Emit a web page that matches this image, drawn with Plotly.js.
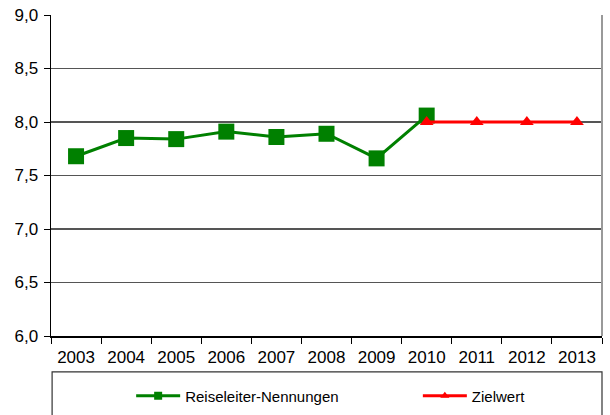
<!DOCTYPE html>
<html><head><meta charset="utf-8">
<script src="https://cdn.plot.ly/plotly-3.0.1.min.js"></script>
<style>body{margin:0;background:#fff}#c{width:610px;height:415px}</style>
</head><body><div id="c"></div>
<script>
const years = ["2003","2004","2005","2006","2007","2008","2009","2010","2011","2012","2013"];
const nennYears = ["2003","2004","2005","2006","2007","2008","2009","2010"];
const nennValues = [7.68, 7.85, 7.84, 7.91, 7.86, 7.89, 7.66, 8.06];
const zielYears = ["2010","2011","2012","2013"];
const zielValues = [8.0, 8.0, 8.0, 8.0];
const yTicks = [6.0, 6.5, 7.0, 7.5, 8.0, 8.5, 9.0];
const seriesNames = ["Reiseleiter-Nennungen", "Zielwert"];

const traces = [
  {x: nennYears, y: nennValues, name: seriesNames[0], type: "scatter", mode: "lines+markers", showlegend: false,
   line: {color: "#008000", width: 3}, marker: {symbol: "square", size: 16, color: "#008000"}},
  {x: zielYears, y: zielValues, name: seriesNames[1], type: "scatter", mode: "lines+markers", showlegend: false,
   line: {color: "#ff0000", width: 3}, marker: {symbol: "triangle-up", size: 12, color: "#ff0000"}},
  // legend entries (smaller symbols, like the reference legend)
  {x: [years[0]], y: [null], name: seriesNames[0], type: "scatter", mode: "lines+markers", legend: "legend",
   line: {color: "#008000", width: 3}, marker: {symbol: "square", size: 8, color: "#008000"}},
  {x: [years[0]], y: [null], name: seriesNames[1], type: "scatter", mode: "lines+markers", legend: "legend2",
   line: {color: "#ff0000", width: 3}, marker: {symbol: "triangle-up", size: 8, color: "#ff0000"}}
];
const legendBase = {orientation: "h", xref: "container", yref: "container", y: 0.046, xanchor: "left", yanchor: "middle",
  font: {size: 15, family: "'Liberation Sans', Arial, sans-serif"}, bgcolor: "rgba(0,0,0,0)",
  itemwidth: 44};
const layout = {
  width: 610, height: 415,
  margin: {l: 51, r: 8, t: 15, b: 79},
  paper_bgcolor: "#fff", plot_bgcolor: "#fff",
  separators: ",.",
  font: {family: "'Liberation Sans', Arial, sans-serif", color: "#000"},
  showlegend: true,
  xaxis: {type: "category", categoryorder: "array", categoryarray: years, range: [-0.5, 10.5],
    tickson: "boundaries", ticks: "outside", ticklen: 6, tickcolor: "#000", ticklabelstandoff: 5,
    showline: true, linecolor: "#000", linewidth: 1.5, showgrid: false, zeroline: false,
    tickfont: {size: 17}, fixedrange: true, automargin: false},
  yaxis: {range: [6, 9], tickvals: yTicks, tickformat: ".1f", ticks: "outside", ticklen: 6, tickcolor: "#000",
    ticklabelstandoff: 2, automargin: false,
    showline: true, linecolor: "#000", linewidth: 1.5, showgrid: true, gridcolor: "#555", gridwidth: 1.5,
    zeroline: false, tickfont: {size: 17}, fixedrange: true},
  legend: Object.assign({}, legendBase, {x: 0.215}),
  legend2: Object.assign({}, legendBase, {x: 0.685}),
  shapes: [
    {type: "line", xref: "paper", yref: "paper", x0: 1, x1: 1, y0: 0, y1: 1, line: {color: "#999", width: 2}},
    {type: "rect", xref: "paper", yref: "paper", x0: 0.002, x1: 1, y0: -0.112, y1: -0.26, line: {color: "#333", width: 1.2}}
  ]
};
Plotly.newPlot("c", traces, layout, {displayModeBar: false, staticPlot: true});
</script></body></html>
